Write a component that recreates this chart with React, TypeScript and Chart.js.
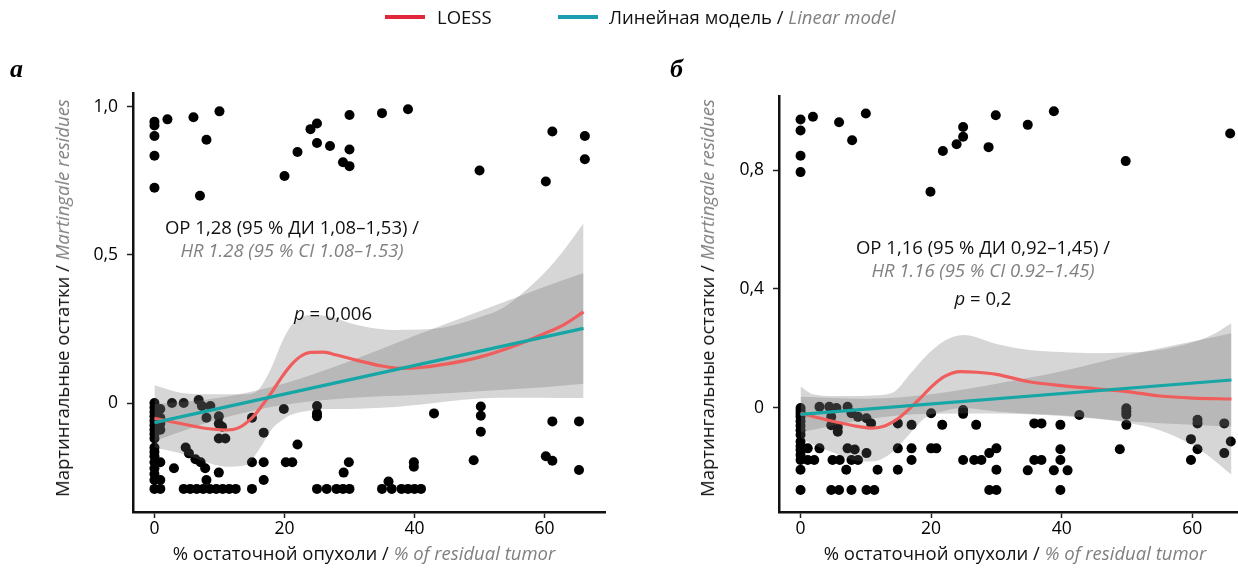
import React, { useEffect, useRef } from "react";
import { Chart, registerables } from "chart.js";

Chart.register(...registerables);

const FONT = '"Open Sans", "Noto Sans", "DejaVu Sans", sans-serif';
const GRAY_TEXT = "#808080";
const RED = "#EF5E5C";
const TEAL = "#17A6A6";
const LEGEND_RED = "#E1283B";
const LEGEND_TEAL = "#1C9DB2";
const BAND = "rgba(105,105,105,0.27)";
const TEXT_SIZE = 18.5;

// ---------- common ticks ----------
const xTicks = [0, 20, 40, 60];
const xTickLabels = ["0", "20", "40", "60"];

// ---------- panel а ----------
const aYTicks = [0, 0.5, 1.0];
const aYTickLabels = ["0", "0,5", "1,0"];

const aPointX = [
  0, 0, 0, 0, 0, 2, 6, 10, 8, 7, 20, 22, 24, 25, 25, 27, 30, 30, 29, 30, 35, 39, 50, 60.2, 61.2, 66.2, 66.2,
  0, 0, 0, 0, 0, 0, 0, 0, 0, 0, 0, 0, 0, 0, 0, 0, 0,
  0.9, 0.9, 0.9, 0.9, 0.9, 0.9, 0.9,
  2.7, 4.5, 6.8, 7.3, 8.6, 8, 9.9, 9.9, 9.9, 10.4, 10.9, 15, 16.8, 19.9, 22, 25, 25, 25,
  4.8, 5.3, 6.3, 7.1, 7.8, 9.9, 3, 15, 16.8, 20.2, 21.2, 29.1, 29.9, 39.9, 39.9, 36, 16.8, 8, 15,
  4.5, 5.5, 6.5, 7.5, 8.5, 9.5, 10.5, 11.5, 12.5, 25, 26.5, 28, 29, 30, 35, 36.5, 38, 39, 40, 41,
  43, 50.2, 50.2, 50.2, 61.2, 65.3, 49.1, 60.2, 61.2, 65.3,
];
const aPointY = [
  0.95, 0.937, 0.902, 0.835, 0.727, 0.958, 0.965, 0.985, 0.889, 0.7, 0.767, 0.848, 0.925, 0.944, 0.878, 0.868, 0.973, 0.856, 0.813, 0.8, 0.979, 0.992, 0.785, 0.748, 0.917, 0.902, 0.823,
  0, -0.015, -0.03, -0.045, -0.06, -0.075, -0.09, -0.105, -0.12, -0.15, -0.165, -0.18, -0.2, -0.22, -0.24, -0.26, -0.29,
  -0.02, -0.05, -0.07, -0.09, -0.2, -0.26, -0.29,
  0, 0, 0.01, -0.01, -0.01, -0.05, -0.045, -0.07, -0.12, -0.08, -0.12, -0.05, -0.1, -0.02, -0.14, -0.01, -0.035, -0.045,
  -0.15, -0.17, -0.19, -0.2, -0.22, -0.235, -0.22, -0.2, -0.2, -0.2, -0.2, -0.235, -0.2, -0.2, -0.215, -0.265, -0.26, -0.26, -0.29,
  -0.29, -0.29, -0.29, -0.29, -0.29, -0.29, -0.29, -0.29, -0.29, -0.29, -0.29, -0.29, -0.29, -0.29, -0.29, -0.29, -0.29, -0.29, -0.29, -0.29,
  -0.035, -0.012, -0.043, -0.097, -0.062, -0.062, -0.193, -0.18, -0.195, -0.226,
];

const aLoessX = [0, 4, 8, 11, 13, 15, 16.5, 18, 19.5, 21, 22.5, 24, 26, 28, 31, 35, 38, 41, 45, 50, 55, 60, 63, 66];
const aLoessY = [-0.052, -0.069, -0.086, -0.091, -0.083, -0.05, -0.01, 0.035, 0.085, 0.128, 0.158, 0.171, 0.172, 0.162, 0.145, 0.125, 0.117, 0.12, 0.132, 0.155, 0.19, 0.235, 0.265, 0.308];

const aLoessBandX = [0, 4, 8, 11, 14, 16, 18, 19.5, 21, 24, 27, 30, 33, 37, 41, 45, 50, 53, 56, 60, 63, 66];
const aLoessUpper = [0.06, 0.035, 0.03, 0.03, 0.03, 0.045, 0.12, 0.2, 0.26, 0.297, 0.292, 0.27, 0.255, 0.247, 0.248, 0.258, 0.29, 0.314, 0.36, 0.44, 0.517, 0.607];
const aLoessLower = [-0.15, -0.17, -0.2, -0.215, -0.21, -0.16, -0.09, -0.06, -0.04, -0.025, -0.02, -0.02, -0.018, -0.013, -0.005, 0.005, 0.015, 0.018, 0.018, 0.018, 0.017, 0.017];

const aLinX = [0, 66];
const aLinY = [-0.066, 0.252];
const aLinBandX = [0, 10, 20, 30, 40, 50, 60, 66];
const aLinUpper = [-0.004, 0.018, 0.066, 0.141, 0.227, 0.31, 0.393, 0.439];
const aLinLower = [-0.128, -0.054, -0.006, 0.017, 0.027, 0.04, 0.053, 0.065];

// ---------- panel б ----------
const bYTicks = [0, 0.4, 0.8];
const bYTickLabels = ["0", "0,4", "0,8"];

const bPointX = [
  0, 0, 0, 0, 1.9, 5.9, 10, 7.9, 19.9, 21.8, 23.9, 24.9, 24.9, 28.8, 29.9, 34.8, 38.8, 49.8, 65.8,
  0, 0, 0, 0, 0, 0, 0, 0, 0, 0, 0, 0, 0, 0, 0,
  1.1, 1.1, 2.1, 2.9, 2.9, 4.4, 4.7, 4.7, 5.5, 5.7, 5.7, 7.2, 7.8, 8.8, 10.1, 10.8,
  4.9, 6.0, 7.0, 7.8, 8.8, 7.2, 8.3, 10.1, 11.8, 14.9, 14.9, 17, 17, 20, 20.8, 14.9, 17, 20, 21.7, 24.9, 24.9, 26.9, 24.9, 26.6, 27.7, 28.9, 30, 30, 28.9, 30,
  4.7, 5.9, 7.8, 10.1, 11.3,
  42.7, 49.9, 49.9, 49.9, 49.9, 60.8, 60.8, 64.9, 35.8, 36.9, 39.8, 39.8, 48.9, 59.8, 60.8, 64.9, 65.9, 35.8, 36.9, 39.8, 59.8, 34.8, 38.8, 40.9, 39.8,
];
const bPointY = [
  0.97, 0.933, 0.848, 0.793, 0.979, 0.961, 0.99, 0.9, 0.727, 0.864, 0.887, 0.912, 0.945, 0.877, 0.984, 0.952, 0.998, 0.83, 0.923,
  0, -0.01, -0.02, -0.03, -0.045, -0.06, -0.075, -0.09, -0.113, -0.128, -0.141, -0.158, -0.175, -0.208, -0.276,
  -0.136, -0.175, -0.175, -0.136, 0.004, 0.004, -0.03, -0.058, 0, -0.065, -0.08, 0.004, -0.018, -0.03, -0.035, -0.052,
  -0.175, -0.175, -0.208, -0.175, -0.175, -0.136, -0.14, -0.152, -0.208, -0.208, -0.136, -0.136, -0.175, -0.136, -0.136, -0.052, -0.057, -0.018, -0.057, -0.007, -0.02, -0.057, -0.175, -0.175, -0.175, -0.152, -0.136, -0.208, -0.276, -0.276,
  -0.276, -0.276, -0.276, -0.276, -0.276,
  -0.024, -0.001, -0.012, -0.023, -0.057, -0.04, -0.052, -0.052, -0.052, -0.052, -0.057, -0.139, -0.139, -0.105, -0.139, -0.152, -0.113, -0.175, -0.175, -0.175, -0.175, -0.21, -0.21, -0.21, -0.276,
];

const bLoessX = [0, 4, 9, 11, 13, 15, 18, 20, 22, 24.5, 27, 30, 35, 40, 45, 50, 55, 60, 66];
const bLoessY = [-0.018, -0.04, -0.063, -0.068, -0.06, -0.035, 0.025, 0.07, 0.105, 0.122, 0.12, 0.113, 0.088, 0.075, 0.065, 0.055, 0.04, 0.033, 0.03];

const bLoessBandX = [0, 2, 5, 8, 11, 14, 17, 19, 22, 25, 30, 35, 40, 45, 50, 55, 60, 63, 66];
const bLoessUpper = [0.072, 0.045, 0.04, 0.04, 0.042, 0.05, 0.12, 0.17, 0.225, 0.245, 0.215, 0.195, 0.188, 0.184, 0.186, 0.195, 0.22, 0.245, 0.285];
const bLoessLower = [-0.1, -0.125, -0.15, -0.175, -0.18, -0.15, -0.08, -0.035, -0.01, 0.0, -0.012, -0.02, -0.025, -0.035, -0.05, -0.075, -0.125, -0.17, -0.225];

const bLinX = [0, 66];
const bLinY = [-0.022, 0.094];
const bLinBandX = [0, 10, 20, 30, 40, 50, 60, 66];
const bLinUpper = [0.038, 0.031, 0.046, 0.081, 0.123, 0.176, 0.223, 0.251];
const bLinLower = [-0.082, -0.039, -0.02, -0.019, -0.027, -0.045, -0.057, -0.063];

const zip = (xs: number[], ys: number[]) => xs.map((x, i) => ({ x, y: ys[i] }));

type PanelProps = {
  left: number;
  width: number;
  height: number;
  pad: { left: number; right: number; top: number; bottom: number };
  yWidth: number;
  xHeight: number;
  xMin: number;
  xMax: number;
  yMin: number;
  yMax: number;
  yTicks: number[];
  yTickLabels: string[];
  pointX: number[];
  pointY: number[];
  loessX: number[];
  loessY: number[];
  loessBandX: number[];
  loessUpper: number[];
  loessLower: number[];
  linX: number[];
  linY: number[];
  linBandX: number[];
  linUpper: number[];
  linLower: number[];
};

function Panel(p: PanelProps) {
  const ref = useRef<HTMLCanvasElement | null>(null);
  useEffect(() => {
    if (!ref.current) return;
    const bandLine = {
      type: "line" as const,
      borderWidth: 0,
      pointRadius: 0,
      cubicInterpolationMode: "monotone" as const,
      backgroundColor: BAND,
    };
    const chart = new Chart(ref.current, {
      type: "scatter",
      data: {
        datasets: [
          {
            type: "scatter",
            data: zip(p.pointX, p.pointY),
            backgroundColor: "#000",
            borderWidth: 0,
            pointRadius: 5,
            order: 10,
          },
          { ...bandLine, data: zip(p.loessBandX, p.loessUpper), fill: "+1", order: 6 },
          { ...bandLine, data: zip(p.loessBandX, p.loessLower), fill: false, order: 6 },
          { ...bandLine, data: zip(p.linBandX, p.linUpper), fill: "+1", order: 5 },
          { ...bandLine, data: zip(p.linBandX, p.linLower), fill: false, order: 5 },
          {
            type: "line",
            data: zip(p.loessX, p.loessY),
            borderColor: RED,
            borderWidth: 3.2,
            pointRadius: 0,
            fill: false,
            cubicInterpolationMode: "monotone",
            order: 2,
          },
          {
            type: "line",
            data: zip(p.linX, p.linY),
            borderColor: TEAL,
            borderWidth: 3.2,
            pointRadius: 0,
            fill: false,
            order: 1,
          },
        ],
      } as any,
      options: {
        animation: false,
        responsive: false,
        events: [],
        layout: { padding: p.pad },
        plugins: { legend: { display: false }, tooltip: { enabled: false } },
        scales: {
          x: {
            type: "linear",
            min: p.xMin,
            max: p.xMax,
            afterBuildTicks: (s: any) => {
              s.ticks = xTicks.map((v) => ({ value: v }));
            },
            afterFit: (s: any) => {
              s.height = p.xHeight;
            },
            ticks: {
              color: "#000",
              font: { family: FONT, size: 17.5 },
              padding: 1,
              maxRotation: 0,
              callback: (v: any) => xTickLabels[xTicks.indexOf(Number(v))] ?? "",
            },
            grid: { drawOnChartArea: false, drawTicks: true, tickLength: 6, tickColor: "#222", tickWidth: 1.5 },
            border: { display: true, color: "#111", width: 2.5 },
          },
          y: {
            type: "linear",
            min: p.yMin,
            max: p.yMax,
            afterBuildTicks: (s: any) => {
              s.ticks = p.yTicks.map((v) => ({ value: v }));
            },
            afterFit: (s: any) => {
              s.width = p.yWidth;
            },
            ticks: {
              color: "#000",
              font: { family: FONT, size: 17.5 },
              padding: 9,
              callback: (v: any) => p.yTickLabels[p.yTicks.indexOf(Number(v))] ?? "",
            },
            grid: { drawOnChartArea: false, drawTicks: true, tickLength: 6, tickColor: "#222", tickWidth: 1.5 },
            border: { display: true, color: "#111", width: 2.5 },
          },
        },
      } as any,
    });
    return () => chart.destroy();
  }, []);
  return (
    <canvas
      ref={ref}
      width={p.width}
      height={p.height}
      style={{ position: "absolute", left: p.left, top: 0, width: p.width, height: p.height }}
    />
  );
}

const centered = (x: number, y: number, extra: React.CSSProperties = {}): React.CSSProperties => ({
  position: "absolute",
  left: x,
  top: y,
  transform: "translate(-50%, -50%)",
  whiteSpace: "nowrap",
  fontFamily: FONT,
  fontSize: TEXT_SIZE,
  color: "#111",
  lineHeight: "24px",
  ...extra,
});

const gray: React.CSSProperties = { color: GRAY_TEXT, fontStyle: "italic" };

function YTitle({ x, y }: { x: number; y: number }) {
  return (
    <div style={centered(x, y, { transform: "translate(-50%, -50%) rotate(-90deg)" })}>
      Мартингальные остатки / <span style={gray}>Martingale residues</span>
    </div>
  );
}

function XTitle({ x, y }: { x: number; y: number }) {
  return (
    <div style={centered(x, y)}>
      % остаточной опухоли / <span style={gray}>% of residual tumor</span>
    </div>
  );
}

export default function App() {
  return (
    <div
      style={{
        position: "fixed",
        left: 0,
        top: 0,
        width: 1238,
        height: 568,
        overflow: "hidden",
        background: "#fff",
      }}
    >
      <Panel
        left={0}
        width={620}
        height={568}
        pad={{ left: 73, right: 15, top: 93, bottom: 16 }}
        yWidth={60}
        xHeight={40}
        xMin={-3.3}
        xMax={69.3}
        yMin={-0.368}
        yMax={1.047}
        yTicks={aYTicks}
        yTickLabels={aYTickLabels}
        pointX={aPointX}
        pointY={aPointY}
        loessX={aLoessX}
        loessY={aLoessY}
        loessBandX={aLoessBandX}
        loessUpper={aLoessUpper}
        loessLower={aLoessLower}
        linX={aLinX}
        linY={aLinY}
        linBandX={aLinBandX}
        linUpper={aLinUpper}
        linLower={aLinLower}
      />
      <Panel
        left={640}
        width={640}
        height={568}
        pad={{ left: 79, right: 27, top: 96, bottom: 16 }}
        yWidth={60}
        xHeight={40}
        xMin={-3.3}
        xMax={69.3}
        yMin={-0.35}
        yMax={1.049}
        yTicks={bYTicks}
        yTickLabels={bYTickLabels}
        pointX={bPointX}
        pointY={bPointY}
        loessX={bLoessX}
        loessY={bLoessY}
        loessBandX={bLoessBandX}
        loessUpper={bLoessUpper}
        loessLower={bLoessLower}
        linX={bLinX}
        linY={bLinY}
        linBandX={bLinBandX}
        linUpper={bLinUpper}
        linLower={bLinLower}
      />

      {/* legend */}
      <div style={{ position: "absolute", left: 385, top: 15, width: 40, height: 4, background: LEGEND_RED }} />
      <div style={{ position: "absolute", left: 437, top: 5, fontFamily: FONT, fontSize: TEXT_SIZE, lineHeight: "24px", color: "#111" }}>LOESS</div>
      <div style={{ position: "absolute", left: 558, top: 15, width: 40, height: 4, background: LEGEND_TEAL }} />
      <div style={{ position: "absolute", left: 609, top: 5, fontFamily: FONT, fontSize: TEXT_SIZE, lineHeight: "24px", color: "#111", whiteSpace: "nowrap" }}>
        Линейная модель / <span style={gray}>Linear model</span>
      </div>

      {/* panel labels */}
      <div style={{ position: "absolute", left: 10, top: 55, fontFamily: '"Liberation Serif", "DejaVu Serif", serif', fontWeight: "bold", fontStyle: "italic", fontSize: 26, lineHeight: "28px", color: "#000" }}>а</div>
      <div style={{ position: "absolute", left: 670, top: 55, fontFamily: '"Liberation Serif", "DejaVu Serif", serif', fontWeight: "bold", fontStyle: "italic", fontSize: 26, lineHeight: "28px", color: "#000" }}>б</div>

      {/* axis titles */}
      <YTitle x={62} y={298} />
      <YTitle x={707} y={298} />
      <XTitle x={364} y={553} />
      <XTitle x={1015} y={553} />

      {/* annotations panel а */}
      <div style={centered(292, 227)}>ОР 1,28 (95 % ДИ 1,08–1,53) /</div>
      <div style={centered(292, 250, gray)}>HR 1.28 (95 % CI 1.08–1.53)</div>
      <div style={centered(333, 313)}>
        <span style={{ fontStyle: "italic" }}>p</span> = 0,006
      </div>

      {/* annotations panel б */}
      <div style={centered(983, 247)}>ОР 1,16 (95 % ДИ 0,92–1,45) /</div>
      <div style={centered(983, 270, gray)}>HR 1.16 (95 % CI 0.92–1.45)</div>
      <div style={centered(983, 298)}>
        <span style={{ fontStyle: "italic" }}>p</span> = 0,2
      </div>
    </div>
  );
}
